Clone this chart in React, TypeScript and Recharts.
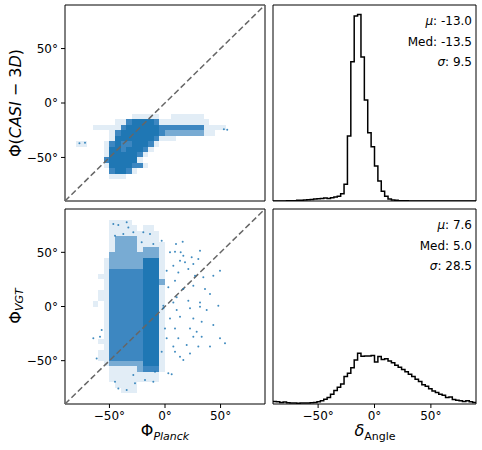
import React from 'react';
import {
  ComposedChart,
  XAxis,
  YAxis,
  Line,
  Scatter,
  ReferenceArea,
  ReferenceLine,
} from 'recharts';

const FONT = '"DejaVu Sans", sans-serif';
const BLUE = '#1f77b4';
// blue at sparse / medium / dense / solid point coverage
const LEVEL_COLORS = ['none', '#e2edf6', '#78abd3', '#3d87c1', '#1f77b4'];

const ANGLE_TICKS = [-50, 0, 50];
const COUNT_TICKS = [0, 1, 2, 3, 4, 5];
const HIST_TOP = 6.04;

const BIN_START = -90;
const BIN_WIDTH = 3;

// histogram heights (arbitrary units), 3 degree bins from -90 to 90
const casiHist = [
  0, 0, 0, 0, 0.01, 0.01, 0.01, 0.02, 0.02, 0.03,
  0.04, 0.05, 0.06, 0.07, 0.08, 0.09, 0.08, 0.1, 0.12, 0.15,
  0.22, 0.52, 2.0, 4.29, 5.7, 5.75, 4.44, 3.11, 2.1, 1.67,
  1.08, 0.62, 0.3, 0.15, 0.06, 0.03, 0.02, 0.01, 0.01, 0.01,
  0, 0, 0, 0, 0, 0, 0, 0, 0, 0,
  0, 0, 0, 0, 0, 0, 0, 0, 0, 0,
];

const vgtHist = [
  0.08, 0.07, 0.05, 0.06, 0.04, 0.03, 0.03, 0.02, 0.03, 0.03,
  0.03, 0.04, 0.05, 0.07, 0.1, 0.15, 0.2, 0.3, 0.42, 0.52,
  0.62, 0.85, 0.95, 1.12, 1.36, 1.57, 1.48, 1.49, 1.49, 1.5,
  1.3, 1.47, 1.38, 1.4, 1.33, 1.28, 1.2, 1.14, 1.07, 1.0,
  0.92, 0.85, 0.77, 0.7, 0.6, 0.55, 0.47, 0.4, 0.36, 0.3,
  0.27, 0.2, 0.22, 0.14, 0.12, 0.1, 0.08, 0.1, 0.07, 0.05,
];

const casiStats = ['-13.0', '-13.5', '9.5'];
const vgtStats = ['7.6', '5.0', '28.5'];

// scatter density: 5 degree cells starting at x = -90,
// 0 empty, 1 sparse, 2 medium, 3 dense, 4 solid
const GRID_START = -90;
const CELL = 5;

const casiDensity: [number, string][] = [
  [-12.5, '0000000000001111100111111'],
  [-17.5, '00000000011344443111111111'],
  [-22.5, '00000111113444444333333331111'],
  [-27.5, '000000001344444443222222211'],
  [-32.5, '00000000144444443111'],
  [-37.5, '00110001343344431'],
  [-42.5, '0000000144344431'],
  [-47.5, '000000014444431'],
  [-52.5, '00000003444441'],
  [-57.5, '000000014444331'],
  [-62.5, '0000000034431'],
  [-67.5, '00000000111'],
];

const vgtDensity: [number, string][] = [
  [77.5, '000000001111'],
  [72.5, '0000000011111011'],
  [67.5, '00000000111111111'],
  [62.5, '00000000122221111'],
  [57.5, '000000001222211111'],
  [52.5, '000000001222212221'],
  [47.5, '000000002222222221'],
  [42.5, '000000012222224441'],
  [37.5, '000000012222224441'],
  [32.5, '000000013333334441'],
  [27.5, '000000113333334441'],
  [22.5, '000000013333334442'],
  [17.5, '000000013333334441'],
  [12.5, '000000113333334441'],
  [7.5, '000000113333334441'],
  [2.5, '000001013333334441'],
  [-2.5, '000000013333334441'],
  [-7.5, '000000013333334441'],
  [-12.5, '000000013333334441'],
  [-17.5, '000000013333334441'],
  [-22.5, '000000013333334441'],
  [-27.5, '000000013333334441'],
  [-32.5, '000000113333334441'],
  [-37.5, '000000013333334441'],
  [-42.5, '000000113333334441'],
  [-47.5, '000000113333334441'],
  [-52.5, '000000012222224441'],
  [-57.5, '000000001111123331'],
  [-62.5, '00000000111111111'],
  [-67.5, '00000000111111111'],
  [-72.5, '0000000001111'],
  [-77.5, '0000000000111'],
];

// isolated points
const casiOutliers = [
  { x: -77, y: -37 },
  { x: -72, y: -36.5 },
  { x: 53, y: -24 },
  { x: 56, y: -24.5 },
];

const vgtOutliers = [
  { x: -46.5, y: 76.2 }, { x: -42, y: 75.2 }, { x: -34.5, y: 77.7 }, { x: -33, y: 73 },
  { x: -45, y: 65.4 }, { x: -37.5, y: 66.9 }, { x: -28.5, y: 68.5 }, { x: -19.5, y: 68.5 },
  { x: -13.5, y: 66.9 }, { x: -21, y: 59.2 }, { x: -10.5, y: 57.7 },
  { x: -3, y: 60.8 }, { x: 9.9, y: 57.7 }, { x: 15.9, y: 59.8 }, { x: 4.5, y: 50 },
  { x: 9, y: 50.6 }, { x: 14.1, y: 50 }, { x: 16.5, y: 46.9 }, { x: 24, y: 45.4 },
  { x: 30, y: 43.8 }, { x: 31.5, y: 51.5 }, { x: 13.5, y: 42.3 }, { x: 18, y: 40.8 },
  { x: 25.5, y: 39.2 }, { x: 7.5, y: 37.7 }, { x: 1.5, y: 33.1 }, { x: 12, y: 31.5 },
  { x: 21, y: 34.6 }, { x: 27, y: 28.5 }, { x: 49.5, y: 33.1 }, { x: 43.5, y: 28.5 },
  { x: 34.5, y: 26.9 }, { x: 9, y: 23.8 }, { x: 3, y: 17.7 }, { x: 16.5, y: 16.2 },
  { x: 25.5, y: 19.2 }, { x: 36, y: 16.2 }, { x: 40.5, y: 11.5 }, { x: 10.5, y: 8.5 },
  { x: 21, y: 5.4 }, { x: 31.5, y: 3.8 }, { x: 48, y: 0.8 }, { x: -1.5, y: 0.8 },
  { x: 7.5, y: 3.8 }, { x: -1.5, y: -1.7 }, { x: 10.5, y: -3.2 }, { x: 22.5, y: -1.7 },
  { x: 31.5, y: -0.2 }, { x: 37.5, y: -3.2 }, { x: 4.5, y: -11 }, { x: 13.5, y: -9.4 },
  { x: 25.5, y: -11 }, { x: 33, y: -14 }, { x: 43.5, y: -17 }, { x: 0, y: -20.2 },
  { x: 9, y: -20.2 }, { x: 22.5, y: -20.2 }, { x: 28.5, y: -23.3 }, { x: 1.5, y: -29.4 },
  { x: 12, y: -29.4 }, { x: 25.5, y: -27.9 }, { x: 33, y: -27.9 }, { x: 49.5, y: -29.4 },
  { x: 54, y: -34 }, { x: 7.5, y: -37 }, { x: 19.5, y: -35.6 }, { x: 30, y: -37 },
  { x: 40.5, y: -37 }, { x: -3, y: -41.7 }, { x: 9, y: -41.7 }, { x: 22.5, y: -43.3 },
  { x: 13.5, y: -46.3 }, { x: 16.5, y: -49.4 }, { x: 3, y: -61.7 }, { x: 6, y: -62.6 },
  { x: -42, y: -75.6 }, { x: -34.5, y: -77.1 }, { x: -27, y: -70.9 }, { x: -18, y: -67.9 },
  { x: -10.5, y: -69.4 }, { x: -45, y: -69.4 }, { x: -28.5, y: -63.3 }, { x: -9, y: -60.2 },
  { x: -64.5, y: -29.4 }, { x: -58.5, y: -27.9 }, { x: -61.5, y: -47.9 }, { x: -57, y: -21.7 },
];

const tickStyle = { fontSize: 12, fill: '#000', fontFamily: FONT };
const fmtAngle = (v: number) => `${v < 0 ? '\u2212' : ''}${Math.abs(v)}°`;

type Area = { x1: number; x2: number; y1: number; y2: number; level: number };

function toAreas(rows: [number, string][]): Area[] {
  const out: Area[] = [];
  rows.forEach(([yc, s]) => {
    let i = 0;
    while (i < s.length) {
      let j = i;
      while (j < s.length && s[j] === s[i]) j++;
      const level = Number(s[i]);
      if (level > 0) {
        out.push({
          x1: GRID_START + i * CELL,
          x2: GRID_START + j * CELL,
          y1: yc - CELL / 2,
          y2: yc + CELL / 2,
          level,
        });
      }
      i = j;
    }
  });
  return out;
}

function histPoints(values: number[]) {
  const pts = values.map((v, i) => ({ x: BIN_START + i * BIN_WIDTH, y: v }));
  pts.push({ x: BIN_START + values.length * BIN_WIDTH, y: values[values.length - 1] });
  return pts;
}

const dotShape = (p: any) => <circle cx={p.cx} cy={p.cy} r={1} fill={BLUE} fillOpacity={0.85} />;

function ScatterPanel({ rows, outliers, bottom }: { rows: [number, string][]; outliers: { x: number; y: number }[]; bottom: boolean }) {
  const areas = toAreas(rows);
  return (
    <ComposedChart width={270} height={bottom ? 230 : 215} margin={{ top: 5, right: 5, bottom: 0, left: 0 }}>
      <XAxis
        type="number"
        dataKey="x"
        domain={[-90, 90]}
        allowDataOverflow
        ticks={ANGLE_TICKS}
        tickFormatter={fmtAngle}
        height={bottom ? 30 : 14}
        tick={bottom ? tickStyle : false}
        tickSize={4}
        tickMargin={3}
        axisLine={false}
        tickLine={{ stroke: '#000' }}
      />
      <YAxis
        type="number"
        dataKey="y"
        domain={[-90, 90]}
        allowDataOverflow
        ticks={ANGLE_TICKS}
        tickFormatter={fmtAngle}
        width={65}
        tick={tickStyle}
        tickSize={4}
        tickMargin={3}
        axisLine={false}
        tickLine={{ stroke: '#000' }}
      />
      {areas.map((a, k) => (
        <ReferenceArea
          key={k}
          className="cell-area"
          x1={a.x1}
          x2={a.x2}
          y1={a.y1}
          y2={a.y2}
          fill={LEVEL_COLORS[a.level]}
          fillOpacity={1}
          stroke="none"
        />
      ))}
      <Scatter data={outliers} fill={BLUE} shape={dotShape} isAnimationActive={false} />
      <ReferenceLine
        segment={[{ x: -90, y: -90 }, { x: 90, y: 90 }]}
        stroke="#666"
        strokeDasharray="6 3"
        strokeWidth={1.5}
      />
      <ReferenceArea x1={-90} x2={90} y1={-90} y2={90} fill="none" stroke="#000" strokeWidth={1} />
    </ComposedChart>
  );
}

function HistPanel({ values, bottom }: { values: number[]; bottom: boolean }) {
  return (
    <ComposedChart
      width={214}
      height={bottom ? 230 : 215}
      data={histPoints(values)}
      margin={{ top: 5, right: 6, bottom: 0, left: 0 }}
    >
      <XAxis
        type="number"
        dataKey="x"
        domain={[-90, 90]}
        allowDataOverflow
        ticks={ANGLE_TICKS}
        tickFormatter={fmtAngle}
        height={bottom ? 30 : 14}
        tick={bottom ? tickStyle : false}
        tickSize={4}
        tickMargin={3}
        axisLine={false}
        tickLine={{ stroke: '#000' }}
      />
      <YAxis
        type="number"
        domain={[0, HIST_TOP]}
        allowDataOverflow
        ticks={COUNT_TICKS}
        width={5}
        tick={false}
        tickSize={4}
        axisLine={false}
        tickLine={{ stroke: '#000' }}
      />
      <Line type="stepAfter" dataKey="y" stroke="#000" strokeWidth={1.5} dot={false} isAnimationActive={false} />
      <ReferenceArea x1={-90} x2={90} y1={0} y2={HIST_TOP} fill="none" stroke="#000" strokeWidth={1} />
    </ComposedChart>
  );
}

function Stats({ top, values }: { top: number; values: string[] }) {
  return (
    <g fontSize={12} textAnchor="end">
      <text x={472} y={top + 20}>
        <tspan fontStyle="italic">μ</tspan>: {values[0]}
      </text>
      <text x={472} y={top + 40.5}>Med: {values[1]}</text>
      <text x={472} y={top + 61}>
        <tspan fontStyle="italic">σ</tspan>: {values[2]}
      </text>
    </g>
  );
}

export default function App() {
  return (
    <div style={{ position: 'absolute', left: 0, top: 0, width: 482, height: 450, background: '#fff', fontFamily: FONT }}>
      <style>{'.cell-area path { shape-rendering: crispEdges; }'}</style>
      <div style={{ position: 'absolute', left: 0, top: 0 }}>
        <ScatterPanel rows={casiDensity} outliers={casiOutliers} bottom={false} />
      </div>
      <div style={{ position: 'absolute', left: 268, top: 0 }}>
        <HistPanel values={casiHist} bottom={false} />
      </div>
      <div style={{ position: 'absolute', left: 0, top: 204 }}>
        <ScatterPanel rows={vgtDensity} outliers={vgtOutliers} bottom />
      </div>
      <div style={{ position: 'absolute', left: 268, top: 204 }}>
        <HistPanel values={vgtHist} bottom />
      </div>
      <svg width={482} height={450} style={{ position: 'absolute', left: 0, top: 0, pointerEvents: 'none' }} fontFamily={FONT} fill="#000">
        <text x={15} y={103} transform="rotate(-90 15 103)" textAnchor="middle" dominantBaseline="central" fontSize={16}>
          Φ(<tspan fontStyle="italic">CASI</tspan>{' − 3'}<tspan fontStyle="italic">D</tspan>)
        </text>
        <text x={15} y={306} transform="rotate(-90 15 306)" textAnchor="middle" dominantBaseline="central" fontSize={16}>
          Φ<tspan fontStyle="italic" fontSize={11} dy={4}>VGT</tspan>
        </text>
        <text x={165} y={436} textAnchor="middle" fontSize={16}>
          Φ<tspan fontStyle="italic" fontSize={11} dy={4}>Planck</tspan>
        </text>
        <text x={375} y={436} textAnchor="middle" fontSize={16}>
          <tspan fontStyle="italic">δ</tspan>
          <tspan fontSize={11} dy={4}>Angle</tspan>
        </text>
        <Stats top={5} values={casiStats} />
        <Stats top={209} values={vgtStats} />
      </svg>
    </div>
  );
}
